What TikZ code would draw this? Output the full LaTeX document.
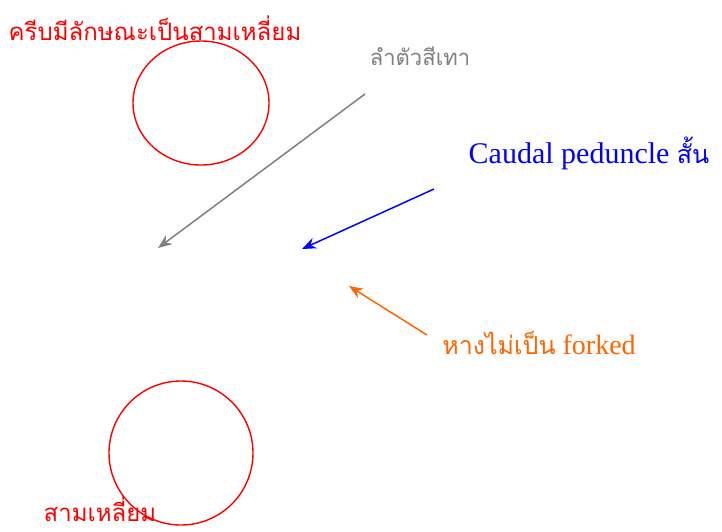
\documentclass[tikz,border=0pt]{standalone}
\usepackage{fontspec}
\setmainfont{Liberation Serif}
\newfontfamily\thaifont[Script=Thai]{Loma}
\usetikzlibrary{arrows.meta,positioning}
\definecolor{notegray}{RGB}{128,128,128}
\definecolor{noteorange}{RGB}{255,102,0}

\begin{document}
\begin{tikzpicture}[x=1pt, y=-1pt,
      ring/.style={draw=red, line width=1.4pt},
      pointer/.style={line width=1.5pt, -{Stealth[length=14pt, width=11pt]}},
      lbl/.style={inner sep=0pt, anchor=base}
    ]
      \useasboundingbox (0,0) rectangle (722,531);

      % circled regions
      \draw[ring] (201,103) ellipse [x radius=68, y radius=62];
      \draw[ring] (181,453) circle [radius=72];

      % labels
      \node[lbl, text=red, font=\thaifont\fontsize{24}{26}\selectfont] (fin) at (155,40) {ครีบมีลักษณะเป็นสามเหลี่ยม};
      \node[lbl, text=notegray, font=\thaifont\fontsize{22}{24}\selectfont] (body) at (420,65) {ลำตัวสีเทา};
      \node[lbl, text=blue, font=\fontsize{30}{32}\selectfont] (peduncle) at (589,163) {Caudal peduncle {\thaifont\fontsize{25}{27}\selectfont สั้น}};
      \node[lbl, text=noteorange, font=\fontsize{28}{30}\selectfont] (tail) at (539,354) {{\thaifont\fontsize{25}{27}\selectfont หางไม่เป็น} forked};
      \node[lbl, text=red, font=\thaifont\fontsize{24}{26}\selectfont] (tri) at (100,521) {สามเหลี่ยม};

      % arrow ends
      \coordinate (bodyFrom) at (365,94);
      \coordinate (bodyTo) at (158,248);
      \coordinate (pedFrom) at (434,189);
      \coordinate (pedTo) at (302,249);
      \coordinate (tailFrom) at (427,335);
      \coordinate (tailTo) at (349,286);

      \draw[pointer, notegray] (bodyFrom) -- (bodyTo);
      \draw[pointer, blue] (pedFrom) -- (pedTo);
      \draw[pointer, noteorange] (tailFrom) -- (tailTo);
    \end{tikzpicture}
\end{document}
